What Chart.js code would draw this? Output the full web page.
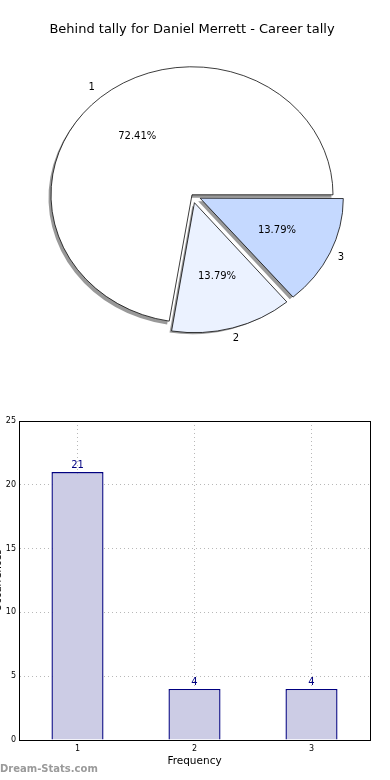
<!DOCTYPE html>
<html>
<head>
<meta charset="utf-8">
<script src="https://cdn.jsdelivr.net/npm/chart.js@4/dist/chart.umd.min.js"></script>
<style>
  body { margin: 0; background: #fff; width: 390px; height: 780px; overflow: hidden; position: relative; font-family: "DejaVu Sans", sans-serif; }
  #pie-chart { position: absolute; left: 0; top: 0; }
  #bar-chart { position: absolute; left: -10px; top: 400px; }
  #watermark { position: absolute; left: 0; top: 763px; font: bold 10px "DejaVu Sans", sans-serif; color: #9a9a9a; }
</style>
</head>
<body>
<canvas id="pie-chart" width="390" height="390"></canvas>
<canvas id="bar-chart" width="400" height="380"></canvas>
<div id="watermark">Dream-Stats.com</div>
<script>
// chart data
const chartTitle = 'Behind tally for Daniel Merrett - Career tally';
const categories = ['1', '2', '3'];
const tallyCounts = [21, 4, 4];
const sliceColors = ['#ffffff', '#ebf2ff', '#c5d9ff'];
const sliceExplode = [0, 36, 36];
const yTicks = [0, 5, 10, 15, 20, 25];

const total = tallyCounts.reduce((a, b) => a + b, 0);
const percentLabels = tallyCounts.map(v => (v / total * 100).toFixed(2) + '%');

// matplotlib draws counter-clockwise from 3 o'clock, chart.js goes clockwise
const order = categories.map((_, i) => i).reverse();
const squash = 0.908;

function slicePos(arc, k) {
  const mid = (arc.startAngle + arc.endAngle) / 2;
  const shift = (arc.options.offset || 0) / 4;
  const d = arc.outerRadius * k + shift;
  return { x: arc.x + Math.cos(mid) * d, y: arc.y + Math.sin(mid) * d * squash };
}

const pieLook = {
  id: 'pieLook',
  beforeDatasetsDraw(chart) {
    const ctx = chart.ctx;
    const arcs = chart.getDatasetMeta(0).data;
    const cx = arcs[0].x, cy = arcs[0].y;
    ctx.save();
    ctx.translate(cx, cy);
    ctx.scale(1, squash);
    ctx.translate(-cx, -cy);
    // shadows under every wedge
    ctx.fillStyle = 'rgba(70,70,70,0.55)';
    arcs.forEach(arc => {
      const mid = (arc.startAngle + arc.endAngle) / 2;
      const shift = (arc.options.offset || 0) / 4;
      const ox = arc.x + Math.cos(mid) * shift - 2;
      const oy = arc.y + Math.sin(mid) * shift + 3 / squash;
      ctx.beginPath();
      ctx.moveTo(ox, oy);
      ctx.arc(ox, oy, arc.outerRadius + 0.5, arc.startAngle, arc.endAngle);
      ctx.closePath();
      ctx.fill();
    });
  },
  afterDatasetsDraw(chart) {
    const ctx = chart.ctx;
    ctx.restore();
    const arcs = chart.getDatasetMeta(0).data;
    ctx.save();
    ctx.fillStyle = '#000';
    ctx.font = '10px "DejaVu Sans"';
    ctx.textAlign = 'center';
    ctx.textBaseline = 'middle';
    arcs.forEach((arc, j) => {
      const i = order[j];
      const p = slicePos(arc, 0.6);
      ctx.fillText(percentLabels[i], p.x, p.y);
      const q = slicePos(arc, 1.1);
      ctx.fillText(categories[i], q.x, q.y);
    });
    ctx.restore();
  }
};

new Chart(document.getElementById('pie-chart'), {
  type: 'pie',
  data: {
    labels: order.map(i => categories[i]),
    datasets: [{
      data: order.map(i => tallyCounts[i]),
      backgroundColor: order.map(i => sliceColors[i]),
      offset: order.map(i => sliceExplode[i]),
      borderColor: '#000',
      borderWidth: 0.8,
      clip: false
    }]
  },
  options: {
    responsive: false,
    animation: false,
    rotation: 90,
    radius: 141,
    layout: { padding: { left: 2, right: 8, top: 0, bottom: 48 } },
    plugins: {
      legend: { display: false },
      tooltip: { enabled: false },
      title: {
        display: true,
        text: chartTitle,
        color: '#000',
        font: { family: 'DejaVu Sans', size: 13, weight: 'normal' },
        padding: { top: 22, bottom: 10 }
      }
    }
  },
  plugins: [pieLook]
});

// frame around the plot and value labels on bars
const barLook = {
  id: 'barLook',
  afterDraw(chart) {
    const ctx = chart.ctx;
    const a = chart.chartArea;
    ctx.save();
    ctx.strokeStyle = '#000';
    ctx.lineWidth = 1;
    ctx.strokeRect(Math.round(a.left) + 0.5, Math.round(a.top) + 0.5, Math.round(a.right - a.left), Math.round(a.bottom - a.top));
    ctx.fillStyle = '#000080';
    ctx.font = '10px "DejaVu Sans"';
    ctx.textAlign = 'center';
    ctx.textBaseline = 'bottom';
    chart.getDatasetMeta(0).data.forEach((bar, i) => {
      ctx.fillText(String(tallyCounts[i]), bar.x, bar.y - 2);
    });
    ctx.restore();
  }
};

new Chart(document.getElementById('bar-chart'), {
  type: 'bar',
  data: {
    labels: categories,
    datasets: [{
      data: tallyCounts,
      backgroundColor: '#ccccE5',
      borderColor: '#000080',
      borderWidth: 1.4,
      barPercentage: 0.445,
      categoryPercentage: 1
    }]
  },
  options: {
    responsive: false,
    animation: false,
    layout: { padding: { left: 0, right: 20, top: 21, bottom: 0 } },
    plugins: { legend: { display: false }, tooltip: { enabled: false } },
    scales: {
      x: {
        z: 1,
        grid: { offset: false, color: '#b8b8b8', drawTicks: false },
        border: { color: '#000', dash: [1, 3] },
        ticks: { color: '#000', font: { family: 'DejaVu Sans', size: 8 }, padding: 4 },
        title: { display: true, text: 'Frequency', color: '#000', font: { family: 'DejaVu Sans', size: 10.5 }, padding: { top: 0, bottom: 12 } },
        afterFit(s) { s.height = 40; }
      },
      y: {
        z: 1,
        min: yTicks[0],
        max: yTicks[yTicks.length - 1],
        afterBuildTicks(s) { s.ticks = yTicks.map(v => ({ value: v })); },
        grid: { color: '#b8b8b8', drawTicks: false },
        border: { color: '#000', dash: [1, 3] },
        ticks: { color: '#000', font: { family: 'DejaVu Sans', size: 8 }, padding: 3 },
        title: { display: true, text: 'Occurrences', color: '#000', font: { family: 'DejaVu Sans', size: 10 }, padding: { top: 2, bottom: 0 } },
        afterFit(s) { s.width = 29; }
      }
    }
  },
  plugins: [barLook]
});
</script>
</body>
</html>
